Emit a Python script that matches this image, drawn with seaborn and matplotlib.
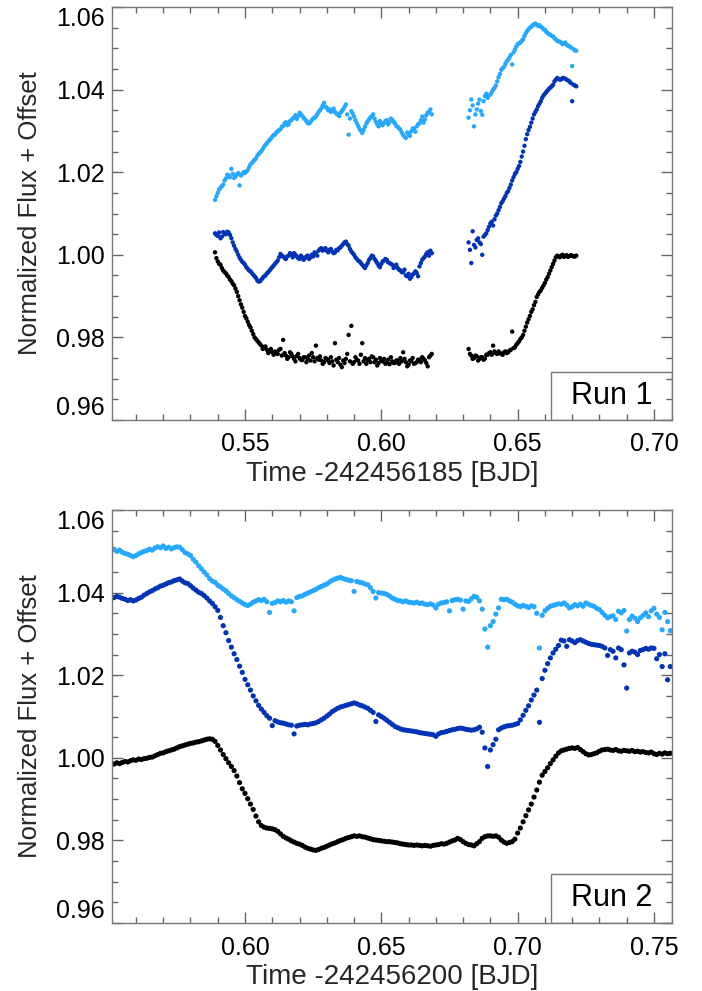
import matplotlib
matplotlib.use("Agg")
import matplotlib.pyplot as plt
from matplotlib.patches import Rectangle
from matplotlib.ticker import MultipleLocator, FixedLocator
import pandas as pd
import seaborn as sns

# ---------------- Run 1 (time offset 242456185) ----------------
# first block of exposures, whole-millisecond-of-day stamps
run1_time_a = [
    0.539, 0.540, 0.541, 0.542, 0.543, 0.544, 0.545, 0.546, 0.547, 0.548,
    0.549, 0.550, 0.551, 0.552, 0.553, 0.554, 0.555, 0.556, 0.557, 0.558,
    0.559, 0.560, 0.561, 0.562, 0.563, 0.564, 0.565, 0.566, 0.567, 0.568,
    0.569, 0.570, 0.571, 0.572, 0.573, 0.574, 0.575, 0.576, 0.577, 0.578,
    0.579, 0.580, 0.581, 0.582, 0.583, 0.584, 0.585, 0.586, 0.587, 0.588,
    0.589, 0.590, 0.591, 0.592, 0.593, 0.594, 0.595, 0.596, 0.597, 0.598,
    0.599, 0.600, 0.601, 0.602, 0.603, 0.604, 0.605, 0.606, 0.607, 0.608,
    0.609, 0.610, 0.611, 0.612, 0.613, 0.614, 0.615, 0.616, 0.617, 0.618,
]
run1_time_a_mid = [
    0.5395, 0.5405, 0.5415, 0.5425, 0.5435, 0.5445, 0.5455, 0.5465, 0.5475, 0.5485,
    0.5495, 0.5505, 0.5515, 0.5525, 0.5535, 0.5545, 0.5555, 0.5565, 0.5575, 0.5585,
    0.5595, 0.5605, 0.5615, 0.5625, 0.5635, 0.5645, 0.5655, 0.5665, 0.5675, 0.5685,
    0.5695, 0.5705, 0.5715, 0.5725, 0.5735, 0.5745, 0.5755, 0.5765, 0.5775, 0.5785,
    0.5795, 0.5805, 0.5815, 0.5825, 0.5835, 0.5845, 0.5855, 0.5865, 0.5875, 0.5885,
    0.5895, 0.5905, 0.5915, 0.5925, 0.5935, 0.5945, 0.5955, 0.5965, 0.5975, 0.5985,
    0.5995, 0.6005, 0.6015, 0.6025, 0.6035, 0.6045, 0.6055, 0.6065, 0.6075, 0.6085,
    0.6095, 0.6105, 0.6115, 0.6125, 0.6135, 0.6145, 0.6155, 0.6165, 0.6175, 0.6185,
]
run1_time_b = [
    0.632, 0.633, 0.634, 0.635, 0.636, 0.637, 0.638, 0.639, 0.640, 0.641,
    0.642, 0.643, 0.644, 0.645, 0.646, 0.647, 0.648, 0.649, 0.650, 0.651,
    0.652, 0.653, 0.654, 0.655, 0.656, 0.657, 0.658, 0.659, 0.660, 0.661,
    0.662, 0.663, 0.664, 0.665, 0.666, 0.667, 0.668, 0.669, 0.670, 0.671,
]
run1_time_b_mid = [
    0.6325, 0.6335, 0.6345, 0.6355, 0.6365, 0.6375, 0.6385, 0.6395, 0.6405, 0.6415,
    0.6425, 0.6435, 0.6445, 0.6455, 0.6465, 0.6475, 0.6485, 0.6495, 0.6505, 0.6515,
    0.6525, 0.6535, 0.6545, 0.6555, 0.6565, 0.6575, 0.6585, 0.6595, 0.6605, 0.6615,
    0.6625, 0.6635, 0.6645, 0.6655, 0.6665, 0.6675, 0.6685, 0.6695, 0.6705, 0.6715,
]

run1_black_a = [
    1.0006, 0.9984, 0.9976, 0.9962, 0.9955, 0.9946, 0.9936, 0.9926, 0.9910, 0.9890,
    0.9872, 0.9852, 0.9838, 0.9824, 0.9808, 0.9796, 0.9788, 0.9780, 0.9776, 0.9770,
    0.9768, 0.9764, 0.9766, 0.9760, 0.9772, 0.9794, 0.9756, 0.9752, 0.9760, 0.9748,
    0.9755, 0.9750, 0.9745, 0.9752, 0.9748, 0.9744, 0.9752, 0.9780, 0.9746, 0.9744,
    0.9740, 0.9748, 0.9738, 0.9742, 0.9786, 0.9740, 0.9734, 0.9744, 0.9748, 0.9806,
    0.9828, 0.9740, 0.9746, 0.9736, 0.9786, 0.9750, 0.9744, 0.9740, 0.9752, 0.9746,
    0.9738, 0.9744, 0.9748, 0.9740, 0.9735, 0.9742, 0.9738, 0.9744, 0.9750, 0.9764,
    0.9740, 0.9734, 0.9742, 0.9736, 0.9740, 0.9746, 0.9752, 0.9744, 0.9730, 0.9756,
]
run1_black_a_mid = [
    0.9992, 0.9978, 0.9968, 0.9958, 0.9950, 0.9940, 0.9930, 0.9918, 0.9900, 0.9880,
    0.9862, 0.9846, 0.9830, 0.9816, 0.9800, 0.9792, 0.9784, 0.9772, 0.9778, 0.9762,
    0.9772, 0.9758, 0.9762, 0.9770, 0.9756, 0.9762, 0.9748, 0.9764, 0.9754, 0.9742,
    0.9760, 0.9746, 0.9752, 0.9740, 0.9756, 0.9762, 0.9742, 0.9750, 0.9754, 0.9736,
    0.9750, 0.9744, 0.9752, 0.9732, 0.9746, 0.9750, 0.9728, 0.9738, 0.9760, 0.9742,
    0.9736, 0.9752, 0.9744, 0.9758, 0.9742, 0.9736, 0.9748, 0.9754, 0.9740, 0.9732,
    0.9750, 0.9742, 0.9736, 0.9746, 0.9752, 0.9738, 0.9744, 0.9736, 0.9742, 0.9748,
    0.9730, 0.9744, 0.9750, 0.9738, 0.9746, 0.9740, 0.9748, 0.9738, 0.9752, 0.9760,
]
run1_black_b = [
    0.9772, 0.9756, 0.9750, 0.9754, 0.9748, 0.9752, 0.9749, 0.9758, 0.9764, 0.9780,
    0.9762, 0.9766, 0.9760, 0.9764, 0.9762, 0.9768, 0.9814, 0.9776, 0.9786, 0.9796,
    0.9806, 0.9826, 0.9844, 0.9862, 0.9878, 0.9898, 0.9910, 0.9920, 0.9932, 0.9946,
    0.9962, 0.9978, 0.9994, 0.9996, 0.9998, 0.9995, 0.9999, 0.9997, 0.9998, 0.9996,
]
run1_black_b_mid = [
    0.9760, 0.9748, 0.9756, 0.9744, 0.9752, 0.9746, 0.9758, 0.9762, 0.9758, 0.9766,
    0.9760, 0.9762, 0.9758, 0.9766, 0.9764, 0.9770, 0.9774, 0.9782, 0.9790, 0.9800,
    0.9816, 0.9836, 0.9852, 0.9868, 0.9886, 0.9904, 0.9914, 0.9926, 0.9940, 0.9954,
    0.9970, 0.9986, 0.9998, 0.9994, 1.0000, 0.9997, 0.9995, 0.9999, 0.9996, 0.9998,
]

run1_blue_a = [
    1.0052, 1.0046, 1.0040, 1.0055, 1.0050, 1.0054, 1.0040, 1.0022, 1.0008, 0.9993,
    0.9983, 0.9976, 0.9966, 0.9960, 0.9952, 0.9944, 0.9935, 0.9940, 0.9948, 0.9955,
    0.9962, 0.9970, 0.9978, 0.9986, 1.0002, 0.9996, 0.9990, 0.9998, 1.0001, 1.0004,
    0.9996, 0.9990, 0.9994, 0.9992, 0.9998, 0.9994, 0.9996, 1.0003, 1.0010, 1.0016,
    1.0013, 1.0010, 1.0012, 1.0008, 1.0006, 1.0011, 1.0018, 1.0026, 1.0032, 1.0022,
    1.0008, 1.0000, 0.9990, 0.9984, 0.9976, 0.9968, 0.9980, 0.9992, 0.9996, 0.9985,
    0.9974, 0.9978, 0.9986, 0.9988, 0.9980, 0.9976, 0.9972, 0.9968, 0.9962, 0.9958,
    0.9950, 0.9954, 0.9946, 0.9955, 0.9956, 0.9972, 0.9988, 0.9996, 1.0006, 1.0010,
]
run1_blue_a_mid = [
    1.0048, 1.0054, 1.0044, 1.0050, 1.0056, 1.0048, 1.0030, 1.0014, 1.0000, 0.9988,
    0.9980, 0.9970, 0.9962, 0.9956, 0.9948, 0.9938, 0.9936, 0.9944, 0.9950, 0.9958,
    0.9966, 0.9974, 0.9982, 0.9994, 0.9998, 0.9992, 0.9996, 1.0004, 0.9994, 1.0000,
    0.9992, 0.9998, 0.9988, 0.9996, 0.9990, 1.0000, 1.0006, 0.9998, 1.0014, 1.0010,
    1.0016, 1.0006, 1.0014, 1.0004, 1.0012, 1.0016, 1.0022, 1.0030, 1.0026, 1.0014,
    1.0004, 0.9994, 0.9986, 0.9980, 0.9972, 0.9974, 0.9988, 0.9998, 0.9990, 0.9980,
    0.9970, 0.9984, 0.9990, 0.9982, 0.9978, 0.9968, 0.9976, 0.9964, 0.9958, 0.9964,
    0.9948, 0.9942, 0.9952, 0.9960, 0.9948, 0.9980, 0.9992, 1.0002, 0.9998, 1.0004,
]
run1_blue_b = [
    1.0030, 0.9980, 1.0024, 1.0036, 1.0030, 1.0000, 1.0048, 1.0060, 1.0076, 1.0071,
    1.0095, 1.0108, 1.0125, 1.0136, 1.0150, 1.0162, 1.0180, 1.0196, 1.0208, 1.0225,
    1.0250, 1.0280, 1.0302, 1.0320, 1.0340, 1.0352, 1.0366, 1.0380, 1.0390, 1.0398,
    1.0405, 1.0412, 1.0424, 1.0426, 1.0425, 1.0428, 1.0424, 1.0420, 1.0372, 1.0410,
]
run1_blue_b_mid = [
    1.0012, 1.0057, 1.0018, 1.0040, 1.0026, 1.0044, 1.0052, 1.0068, 1.0080, 1.0086,
    1.0100, 1.0116, 1.0130, 1.0142, 1.0154, 1.0170, 1.0188, 1.0200, 1.0215, 1.0238,
    1.0264, 1.0292, 1.0310, 1.0330, 1.0346, 1.0360, 1.0372, 1.0386, 1.0394, 1.0402,
    1.0408, 1.0420, 1.0428, 1.0424, 1.0428, 1.0426, 1.0422, 1.0416, 1.0412, 1.0408,
]

run1_sky_a = [
    1.0133, 1.0150, 1.0162, 1.0170, 1.0185, 1.0192, 1.0208, 1.0186, 1.0194, 1.0168,
    1.0196, 1.0198, 1.0205, 1.0219, 1.0226, 1.0233, 1.0244, 1.0251, 1.0262, 1.0270,
    1.0278, 1.0286, 1.0291, 1.0299, 1.0304, 1.0312, 1.0321, 1.0316, 1.0326, 1.0333,
    1.0329, 1.0344, 1.0336, 1.0328, 1.0319, 1.0322, 1.0330, 1.0335, 1.0346, 1.0355,
    1.0368, 1.0356, 1.0352, 1.0350, 1.0346, 1.0340, 1.0344, 1.0352, 1.0364, 1.0291,
    1.0348, 1.0335, 1.0319, 1.0305, 1.0295, 1.0310, 1.0323, 1.0333, 1.0340, 1.0322,
    1.0311, 1.0318, 1.0319, 1.0326, 1.0321, 1.0327, 1.0318, 1.0310, 1.0303, 1.0290,
    1.0283, 1.0292, 1.0299, 1.0305, 1.0311, 1.0318, 1.0335, 1.0328, 1.0344, 1.0352,
]
run1_sky_a_mid = [
    1.0142, 1.0158, 1.0166, 1.0180, 1.0194, 1.0188, 1.0196, 1.0190, 1.0198, 1.0192,
    1.0200, 1.0202, 1.0212, 1.0222, 1.0230, 1.0240, 1.0248, 1.0256, 1.0266, 1.0274,
    1.0282, 1.0290, 1.0296, 1.0302, 1.0310, 1.0318, 1.0314, 1.0324, 1.0330, 1.0338,
    1.0336, 1.0340, 1.0332, 1.0324, 1.0318, 1.0326, 1.0332, 1.0340, 1.0350, 1.0362,
    1.0358, 1.0350, 1.0346, 1.0354, 1.0342, 1.0336, 1.0348, 1.0358, 1.0340, 1.0330,
    1.0342, 1.0326, 1.0312, 1.0300, 1.0302, 1.0318, 1.0328, 1.0336, 1.0330, 1.0316,
    1.0324, 1.0314, 1.0324, 1.0316, 1.0330, 1.0322, 1.0312, 1.0306, 1.0296, 1.0286,
    1.0296, 1.0288, 1.0306, 1.0298, 1.0316, 1.0326, 1.0320, 1.0338, 1.0346, 1.0340,
]
run1_sky_b = [
    1.0332, 1.0376, 1.0311, 1.0352, 1.0376, 1.0339, 1.0384, 1.0380, 1.0388, 1.0400,
    1.0410, 1.0430, 1.0448, 1.0455, 1.0469, 1.0478, 1.0461, 1.0497, 1.0510, 1.0514,
    1.0522, 1.0537, 1.0546, 1.0552, 1.0558, 1.0557, 1.0556, 1.0550, 1.0545, 1.0537,
    1.0533, 1.0529, 1.0522, 1.0517, 1.0514, 1.0512, 1.0508, 1.0505, 1.0457, 1.0495,
]
run1_sky_b_mid = [
    1.0350, 1.0362, 1.0340, 1.0366, 1.0348, 1.0372, 1.0390, 1.0386, 1.0394, 1.0404,
    1.0420, 1.0438, 1.0452, 1.0462, 1.0472, 1.0484, 1.0490, 1.0504, 1.0512, 1.0518,
    1.0530, 1.0542, 1.0550, 1.0556, 1.0560, 1.0554, 1.0552, 1.0546, 1.0540, 1.0534,
    1.0530, 1.0524, 1.0518, 1.0516, 1.0510, 1.0514, 1.0506, 1.0502, 1.0498, 1.0494,
]

# ---------------- Run 2 (time offset 242456200) ----------------
run2_time = [
    0.551, 0.552, 0.553, 0.554, 0.555, 0.556, 0.557, 0.558, 0.559, 0.560,
    0.561, 0.562, 0.563, 0.564, 0.565, 0.566, 0.567, 0.568, 0.569, 0.570,
    0.571, 0.572, 0.573, 0.574, 0.575, 0.576, 0.577, 0.578, 0.579, 0.580,
    0.581, 0.582, 0.583, 0.584, 0.585, 0.586, 0.587, 0.588, 0.589, 0.590,
    0.591, 0.592, 0.593, 0.594, 0.595, 0.596, 0.597, 0.598, 0.599, 0.600,
    0.601, 0.602, 0.603, 0.604, 0.605, 0.606, 0.607, 0.608, 0.609, 0.610,
    0.611, 0.612, 0.613, 0.614, 0.615, 0.616, 0.617, 0.618, 0.619, 0.620,
    0.621, 0.622, 0.623, 0.624, 0.625, 0.626, 0.627, 0.628, 0.629, 0.630,
    0.631, 0.632, 0.633, 0.634, 0.635, 0.636, 0.637, 0.638, 0.639, 0.640,
    0.641, 0.642, 0.643, 0.644, 0.645, 0.646, 0.647, 0.648, 0.649, 0.650,
    0.651, 0.652, 0.653, 0.654, 0.655, 0.656, 0.657, 0.658, 0.659, 0.660,
    0.661, 0.662, 0.663, 0.664, 0.665, 0.666, 0.667, 0.668, 0.669, 0.670,
    0.671, 0.672, 0.673, 0.674, 0.675, 0.676, 0.677, 0.678, 0.679, 0.680,
    0.681, 0.682, 0.683, 0.684, 0.685, 0.686, 0.687, 0.688, 0.689, 0.690,
    0.691, 0.692, 0.693, 0.694, 0.695, 0.696, 0.697, 0.698, 0.699, 0.700,
    0.701, 0.702, 0.703, 0.704, 0.705, 0.706, 0.707, 0.708, 0.709, 0.710,
    0.711, 0.712, 0.713, 0.714, 0.715, 0.716, 0.717, 0.718, 0.719, 0.720,
    0.721, 0.722, 0.723, 0.724, 0.725, 0.726, 0.727, 0.728, 0.729, 0.730,
    0.731, 0.732, 0.733, 0.734, 0.735, 0.736, 0.737, 0.738, 0.739, 0.740,
    0.741, 0.742, 0.743, 0.744, 0.745, 0.746, 0.747, 0.748, 0.749, 0.750,
    0.751, 0.752, 0.753, 0.754, 0.755, 0.756,
]

run2_black = [
    0.9987, 0.9985, 0.9988, 0.9986, 0.9989, 0.9991, 0.9990, 0.9993, 0.9995, 0.9994,
    0.9997, 0.9996, 0.9998, 0.9999, 1.0001, 1.0002, 1.0005, 1.0008, 1.0011, 1.0012,
    1.0015, 1.0017, 1.0019, 1.0021, 1.0024, 1.0027, 1.0029, 1.0031, 1.0033, 1.0035,
    1.0036, 1.0038, 1.0039, 1.0041, 1.0043, 1.0045, 1.0046, 1.0045, 1.0040, 1.0030,
    1.0019, 1.0008, 0.9998, 0.9988, 0.9979, 0.9969, 0.9956, 0.9940, 0.9925, 0.9914,
    0.9901, 0.9888, 0.9875, 0.9859, 0.9845, 0.9836, 0.9832, 0.9830, 0.9829, 0.9828,
    0.9826, 0.9822, 0.9816, 0.9810, 0.9806, 0.9803, 0.9799, 0.9796, 0.9793, 0.9791,
    0.9788, 0.9784, 0.9781, 0.9779, 0.9777, 0.9776, 0.9778, 0.9781, 0.9783, 0.9786,
    0.9789, 0.9792, 0.9794, 0.9797, 0.9800, 0.9802, 0.9805, 0.9807, 0.9809, 0.9811,
    0.9810, 0.9811, 0.9809, 0.9808, 0.9806, 0.9804, 0.9802, 0.9801, 0.9800, 0.9799,
    0.9798, 0.9797, 0.9797, 0.9796, 0.9795, 0.9794, 0.9792, 0.9791, 0.9790, 0.9789,
    0.9789, 0.9788, 0.9789, 0.9788, 0.9787, 0.9788, 0.9787, 0.9786, 0.9788, 0.9789,
    0.9790, 0.9792, 0.9791, 0.9793, 0.9796, 0.9799, 0.9801, 0.9805, 0.9802, 0.9797,
    0.9793, 0.9790, 0.9789, 0.9787, 0.9792, 0.9797, 0.9805, 0.9809, 0.9811, 0.9811,
    0.9810, 0.9811, 0.9808, 0.9801, 0.9796, 0.9793, 0.9795, 0.9797, 0.9803, 0.9818,
    0.9830, 0.9845, 0.9860, 0.9874, 0.9888, 0.9905, 0.9922, 0.9941, 0.9958, 0.9967,
    0.9976, 0.9986, 0.9995, 1.0004, 1.0012, 1.0017, 1.0019, 1.0021, 1.0023, 1.0024,
    1.0023, 1.0025, 1.0020, 1.0015, 1.0010, 1.0007, 1.0008, 1.0010, 1.0012, 1.0016,
    1.0019, 1.0020, 1.0021, 1.0019, 1.0018, 1.0020, 1.0017, 1.0016, 1.0018, 1.0017,
    1.0016, 1.0018, 1.0015, 1.0016, 1.0014, 1.0015, 1.0013, 1.0012, 1.0014, 1.0010,
    1.0008, 1.0011, 1.0009, 1.0012, 1.0010, 1.0011,
]

run2_blue = [
    1.0390, 1.0388, 1.0391, 1.0389, 1.0386, 1.0384, 1.0381, 1.0383, 1.0380, 1.0382,
    1.0386, 1.0389, 1.0394, 1.0398, 1.0402, 1.0405, 1.0409, 1.0412, 1.0416, 1.0418,
    1.0421, 1.0424, 1.0426, 1.0429, 1.0431, 1.0433, 1.0428, 1.0424, 1.0422, 1.0417,
    1.0411, 1.0406, 1.0401, 1.0398, 1.0393, 1.0387, 1.0380, 1.0374, 1.0366, 1.0357,
    1.0340, 1.0320, 1.0303, 1.0284, 1.0268, 1.0252, 1.0238, 1.0222, 1.0207, 1.0190,
    1.0177, 1.0164, 1.0150, 1.0138, 1.0127, 1.0118, 1.0110, 1.0102, 1.0096, 1.0078,
    1.0090, 1.0087, 1.0085, 1.0084, 1.0082, 1.0080, 1.0079, 1.0058, 1.0077, 1.0079,
    1.0080, 1.0081, 1.0080, 1.0082, 1.0083, 1.0085, 1.0088, 1.0092, 1.0096, 1.0101,
    1.0106, 1.0112, 1.0116, 1.0120, 1.0123, 1.0125, 1.0127, 1.0129, 1.0131, 1.0133,
    1.0131, 1.0128, 1.0126, 1.0123, 1.0120, 1.0115, 1.0110, 1.0088, 1.0104, 1.0100,
    1.0096, 1.0091, 1.0086, 1.0081, 1.0076, 1.0073, 1.0070, 1.0068, 1.0067, 1.0066,
    1.0065, 1.0064, 1.0063, 1.0061, 1.0060, 1.0059, 1.0058, 1.0057, 1.0056, 1.0052,
    1.0058, 1.0061, 1.0062, 1.0064, 1.0066, 1.0068, 1.0069, 1.0071, 1.0072, 1.0071,
    1.0069, 1.0068, 1.0067, 1.0068, 1.0070, 1.0074, 1.0062, 1.0024, 0.9979, 1.0019,
    1.0032, 1.0045, 1.0068, 1.0072, 1.0075, 1.0077, 1.0078, 1.0079, 1.0081, 1.0083,
    1.0092, 1.0103, 1.0115, 1.0126, 1.0140, 1.0152, 1.0164, 1.0086, 1.0192, 1.0212,
    1.0228, 1.0242, 1.0254, 1.0263, 1.0272, 1.0285, 1.0283, 1.0270, 1.0286, 1.0283,
    1.0279, 1.0284, 1.0286, 1.0283, 1.0280, 1.0277, 1.0275, 1.0274, 1.0273, 1.0272,
    1.0270, 1.0266, 1.0248, 1.0262, 1.0258, 1.0242, 1.0266, 1.0262, 1.0225, 1.0169,
    1.0254, 1.0258, 1.0256, 1.0250, 1.0260, 1.0262, 1.0265, 1.0263, 1.0266, 1.0265,
    1.0240, 1.0250, 1.0221, 1.0252, 1.0189, 1.0221,
]

run2_sky = [
    1.0502, 1.0505, 1.0500, 1.0503, 1.0498, 1.0495, 1.0493, 1.0490, 1.0487, 1.0490,
    1.0494, 1.0497, 1.0500, 1.0502, 1.0505, 1.0503, 1.0508, 1.0511, 1.0509, 1.0513,
    1.0507, 1.0510, 1.0506, 1.0509, 1.0511, 1.0510, 1.0504, 1.0497, 1.0494, 1.0490,
    1.0481, 1.0474, 1.0465, 1.0458, 1.0450, 1.0443, 1.0434, 1.0428, 1.0425, 1.0418,
    1.0414, 1.0409, 1.0404, 1.0398, 1.0392, 1.0388, 1.0383, 1.0379, 1.0375, 1.0371,
    1.0369, 1.0372, 1.0377, 1.0380, 1.0383, 1.0381, 1.0384, 1.0378, 1.0352, 1.0374,
    1.0376, 1.0380, 1.0378, 1.0381, 1.0377, 1.0380, 1.0378, 1.0356, 1.0388, 1.0391,
    1.0392, 1.0396, 1.0399, 1.0402, 1.0405, 1.0408, 1.0412, 1.0415, 1.0418, 1.0421,
    1.0426, 1.0430, 1.0433, 1.0435, 1.0437, 1.0434, 1.0432, 1.0430, 1.0429, 1.0403,
    1.0427, 1.0425, 1.0424, 1.0421, 1.0419, 1.0412, 1.0403, 1.0387, 1.0400, 1.0399,
    1.0398, 1.0396, 1.0392, 1.0387, 1.0384, 1.0381, 1.0380, 1.0378, 1.0380, 1.0377,
    1.0376, 1.0375, 1.0377, 1.0374, 1.0375, 1.0372, 1.0371, 1.0373, 1.0370, 1.0363,
    1.0372, 1.0375, 1.0376, 1.0378, 1.0356, 1.0381, 1.0383, 1.0384, 1.0382, 1.0360,
    1.0380, 1.0379, 1.0385, 1.0391, 1.0389, 1.0380, 1.0360, 1.0312, 1.0268, 1.0320,
    1.0330, 1.0348, 1.0363, 1.0384, 1.0383, 1.0384, 1.0380, 1.0377, 1.0372, 1.0368,
    1.0366, 1.0369, 1.0367, 1.0364, 1.0368, 1.0366, 1.0350, 1.0266, 1.0345, 1.0356,
    1.0362, 1.0367, 1.0369, 1.0371, 1.0373, 1.0372, 1.0375, 1.0370, 1.0363, 1.0366,
    1.0371, 1.0368, 1.0372, 1.0367, 1.0375, 1.0372, 1.0369, 1.0367, 1.0362, 1.0359,
    1.0352, 1.0345, 1.0339, 1.0342, 1.0344, 1.0335, 1.0355, 1.0351, 1.0357, 1.0307,
    1.0335, 1.0343, 1.0338, 1.0330, 1.0339, 1.0345, 1.0351, 1.0342, 1.0356, 1.0362,
    1.0348, 1.0340, 1.0310, 1.0352, 1.0330, 1.0308,
]

run_labels = ["Run 1", "Run 2"]
xlabels = ["Time -242456185 [BJD]", "Time -242456200 [BJD]"]
ylabel = "Normalized Flux + Offset"
y_ticks = [0.96, 0.98, 1.00, 1.02, 1.04, 1.06]
y_ticklabels = ["0.96", "0.98", "1.00", "1.02", "1.04", "1.06"]
x_ticks_run1 = [0.55, 0.60, 0.65, 0.70]
x_ticks_run2 = [0.60, 0.65, 0.70, 0.75]

band_order = ["black", "blue", "sky"]
band_colors = {"black": "#000000", "blue": "#0033B5", "sky": "#26A8FF"}


def long_frame(times, series):
    parts = [pd.DataFrame({"time": times, "flux": vals, "band": name})
             for name, vals in series.items()]
    return pd.concat(parts, ignore_index=True)


run1 = long_frame(run1_time_a + run1_time_a_mid + run1_time_b + run1_time_b_mid, {
    "black": run1_black_a + run1_black_a_mid + run1_black_b + run1_black_b_mid,
    "blue": run1_blue_a + run1_blue_a_mid + run1_blue_b + run1_blue_b_mid,
    "sky": run1_sky_a + run1_sky_a_mid + run1_sky_b + run1_sky_b_mid,
})
run2 = long_frame(run2_time, {
    "black": run2_black,
    "blue": run2_blue,
    "sky": run2_sky,
})

sns.set_theme(style="ticks")
plt.rcParams["font.family"] = ["Liberation Sans", "DejaVu Sans"]

fig = plt.figure(figsize=(7.02, 9.91), dpi=100)
ax_top = fig.add_axes([0.1595, 0.5762, 0.7977, 0.4167])
ax_bot = fig.add_axes([0.1595, 0.0686, 0.7977, 0.4167])

panels = [
    (ax_top, run1, (0.5012, 0.7066), x_ticks_run1, 0.116, 10),
    (ax_bot, run2, (0.5512, 0.7566), x_ticks_run2, 0.119, 14),
]

for i, (ax, df, xlim, xticks, box_h, msize) in enumerate(panels):
    sns.scatterplot(data=df, x="time", y="flux", hue="band",
                    hue_order=band_order, palette=band_colors,
                    s=msize, linewidth=0, legend=False, ax=ax)
    ax.set_xlim(*xlim)
    ax.set_ylim(0.96, 1.06)
    ax.xaxis.set_major_locator(FixedLocator(xticks))
    ax.set_xticklabels([f"{v:.2f}" for v in xticks])
    ax.xaxis.set_minor_locator(MultipleLocator(0.01))
    ax.yaxis.set_major_locator(FixedLocator(y_ticks))
    ylabels_txt = ax.set_yticklabels(y_ticklabels)
    ax.yaxis.set_minor_locator(MultipleLocator(0.005))
    # end labels pulled inside the frame
    ylabels_txt[0].set_verticalalignment("bottom")
    ylabels_txt[-1].set_verticalalignment("top")
    ax.tick_params(which="both", direction="in", top=True, right=True,
                   color="#666666", width=1.0, labelcolor="black",
                   labelsize=18)
    ax.tick_params(which="major", length=8)
    ax.tick_params(which="minor", length=4.3)
    ax.tick_params(axis="y", pad=5)
    ax.tick_params(axis="x", pad=9)
    for sp in ax.spines.values():
        sp.set_color("#777777")
        sp.set_linewidth(1.0)
    ax.set_xlabel(xlabels[i], fontsize=20, labelpad=3)
    ax.set_ylabel(ylabel, fontsize=18.5, labelpad=10)
    ax.add_patch(Rectangle((0.784, 0.0), 0.216, box_h, transform=ax.transAxes,
                           fill=False, edgecolor="#777777", linewidth=1.0,
                           zorder=5))
    ax.text(0.892, box_h / 2, run_labels[i], transform=ax.transAxes,
            ha="center", va="center", fontsize=22, color="black", zorder=6)

fig.savefig("out.png", dpi=100)
